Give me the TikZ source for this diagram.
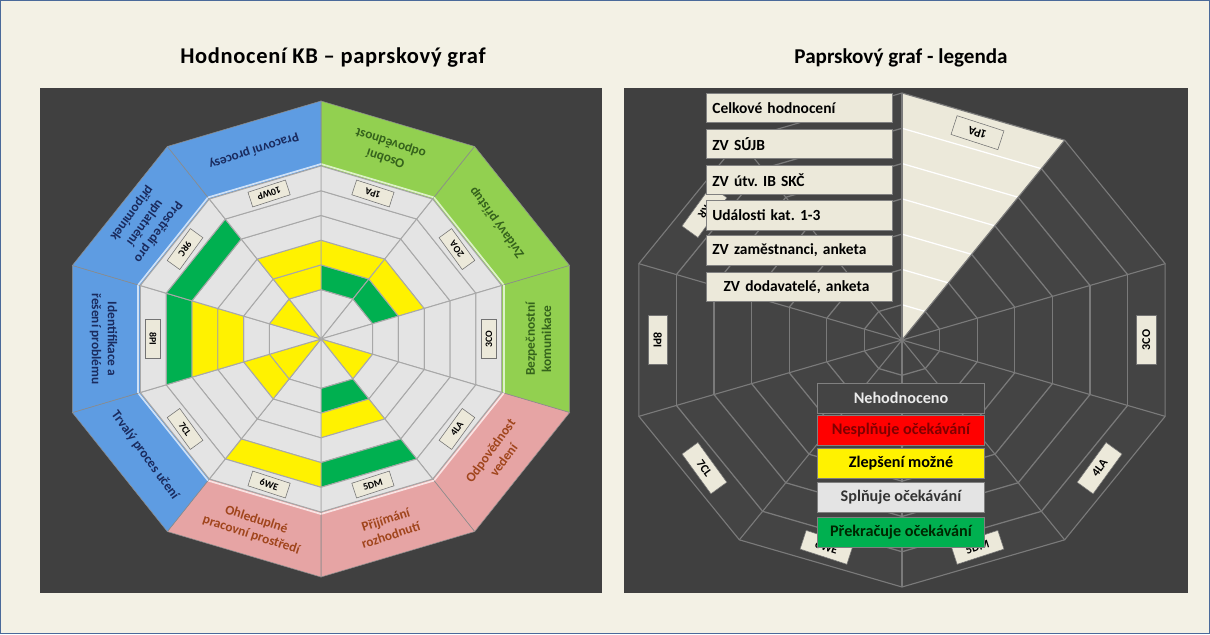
\documentclass[tikz,border=0pt]{standalone}
\usepackage{fontspec}
\setmainfont{Carlito}
\usetikzlibrary{positioning}
\frenchspacing

\definecolor{pozadi}{HTML}{F3F1E5}
\definecolor{ramec}{HTML}{4A6A9A}
\definecolor{panel}{HTML}{404040}
\definecolor{bunka}{HTML}{E4E4E4}
\definecolor{zlu}{HTML}{FFF200}
\definecolor{zel}{HTML}{00B050}
\definecolor{modra}{HTML}{5E9CE2}
\definecolor{zelena}{HTML}{92D050}
\definecolor{ruzova}{HTML}{E6A4A4}
\definecolor{tmod}{HTML}{1A2B5E}
\definecolor{tzel}{HTML}{35631C}
\definecolor{truz}{HTML}{A0451C}
\definecolor{bezova}{HTML}{ECE9DA}
\definecolor{cara}{HTML}{A8A8A8}
\definecolor{tmava}{HTML}{444444}
\definecolor{carap}{HTML}{7A7A7A}

\begin{document}
\begin{tikzpicture}[x=0.025cm, y=-0.025cm,
    nadpis/.style={font=\bfseries\fontsize{15}{18}\selectfont},
    popis/.style={font=\bfseries\fontsize{9.5}{11.5}\selectfont, align=center, inner sep=0pt},
    stitek/.style={draw=black!55, fill=bezova, font=\bfseries\fontsize{7}{8}\selectfont, minimum width=28pt, minimum height=11pt, inner sep=1pt},
    stitekP/.style={stitek, font=\bfseries\fontsize{8.5}{9}\selectfont, minimum width=35pt, minimum height=14pt},
    seznam/.style={draw=black!50, fill=bezova, minimum width=132pt, minimum height=21pt, text width=124pt, align=left, font=\bfseries\fontsize{11}{13}\selectfont},
    hodnota/.style={draw=black!50, minimum width=119pt, minimum height=21.5pt, font=\bfseries\fontsize{11.5}{13}\selectfont}
  ]
  \useasboundingbox (0,0) rectangle (1210,634);
  \fill[pozadi] (0,0) rectangle (1210,634);
  \draw[ramec, line width=1pt] (0.7,0.7) rectangle (1209.3,633.3);

  \fill[panel] (40,88) rectangle (602,593);
  \fill[panel] (624,88) rectangle (1188,593);

  \node[nadpis, font=\bfseries\fontsize{16}{18}\selectfont\addfontfeatures{LetterSpace=3}] (nadpisL) at (333,58) {Hodnocení KB – paprskový graf};
  \node[nadpis] (nadpisP) at (901,58) {Paprskový graf - legenda};

  % hodnoceni KB
  \begin{scope}[shift={(321,339)}, x=0.02745cm, y=0.025cm]
    \foreach \i/\lbl/\barva/\tb/\txt/\bunky in {
        1/1PA/zelena/tzel/{Osobní\\odpovědnost}/{bunka,zel,zlu,bunka,bunka,bunka},
        2/2OA/zelena/tzel/{Zvídavý přístup}/{bunka,zel,zlu,bunka,bunka,bunka},
        3/3CO/zelena/tzel/{Bezpečnostní\\komunikace}/{bunka,bunka,bunka,bunka,bunka,bunka},
        4/4LA/ruzova/truz/{Odpovědnost\\vedení}/{zlu,bunka,bunka,bunka,bunka,bunka},
        5/5DM/ruzova/truz/{Přijímání\\rozhodnutí}/{bunka,zel,zlu,bunka,zel,bunka},
        6/6WE/ruzova/truz/{Ohleduplné\\pracovní prostředí}/{bunka,bunka,bunka,bunka,zlu,bunka},
        7/7CL/modra/tmod/{Trvalý proces učení}/{zlu,zlu,bunka,bunka,bunka,bunka},
        8/8PI/modra/tmod/{Identifikace a\\řešení problému}/{bunka,bunka,zlu,zlu,zel,bunka},
        9/9RC/modra/tmod/{Prostředí pro\\uplatnění\\připomínek}/{zlu,bunka,bunka,bunka,zel,bunka},
        10/10WP/modra/tmod/{Pracovní procesy}/{bunka,zlu,zlu,bunka,bunka,bunka}}{
      \pgfmathsetmacro\a{108-36*\i}
      \pgfmathsetmacro\ap{\a+18}
      \pgfmathsetmacro\am{\a-18}
      \filldraw[fill=\barva, draw=black!45] (\ap:173) -- (\ap:238) -- (\am:238) -- (\am:173) -- cycle;
      \draw[white!70!\barva, line width=1.2pt] (\ap:175) -- (\am:175);
      \foreach \c [count=\k] in \bunky {
        \pgfmathsetmacro\rin{\k==1 ? 0 : 24.714*\k}
        \pgfmathsetmacro\rout{24.714*(\k+1)}
        \filldraw[fill=\c, draw=cara, line width=0.7pt] (\ap:\rin) -- (\ap:\rout) -- (\am:\rout) -- (\am:\rin) -- cycle;
      }
      \node[popis, text=\tb, rotate=\a+90] (popis\i) at (\a:198) {\txt};
      \node[stitek, rotate=\a+90] (stitek\i) at (\a:153) {\lbl};
    }
  \end{scope}

  % legenda - graf
  \begin{scope}[shift={(902,340)}, x=0.028cm, y=0.025cm]
    \foreach \i in {1,...,10}{
      \pgfmathsetmacro\ap{126-36*\i}
      \pgfmathsetmacro\am{90-36*\i}
      \ifnum\i=1 \def\vypln{bezova}\def\linka{white}\else\def\vypln{tmava}\def\linka{carap}\fi
      \fill[\vypln] (0,0) -- (\ap:247) -- (\am:247) -- cycle;
      \foreach \k in {1,...,6}{
        \pgfmathsetmacro\r{35.29*\k}
        \draw[\linka, line width=0.9pt] (\ap:\r) -- (\am:\r);
      }
    }
    \foreach \a in {90,54,...,-234}
      \draw[carap, line width=0.8pt] (0,0) -- (\a:247);
    \draw[carap, line width=0.8pt] (90:247) \foreach \a in {54,18,...,-234}{ -- (\a:247)} -- cycle;

    \node[stitekP, rotate=162] (p1PA) at (72:218) {1PA};
    \node[stitekP, rotate=90] (p3CO) at (0:218) {3CO};
    \node[stitekP, rotate=54] (p4LA) at (-36:218) {4LA};
    \node[stitekP, rotate=18] (p5DM) at (-72:218) {5DM};
    \node[stitekP, rotate=-18] (p6WE) at (-108:218) {6WE};
    \node[stitekP, rotate=-54] (p7CL) at (-144:218) {7CL};
    \node[stitekP, rotate=-90] (p8PI) at (180:218) {8PI};
    \node[stitekP, rotate=-126] (p9RC) at (144:218) {KR};
  \end{scope}

  \node[seznam] (celkove) at (799.5,108) {Celkové hodnocení};
  \node[seznam] (sujb) at (799.5,144) {ZV SÚJB};
  \node[seznam] (utv) at (799.5,180) {ZV útv. IB SKČ};
  \node[seznam] (udalosti) at (799.5,215.5) {Události kat. 1-3};
  \node[seznam] (zamestnanci) at (799.5,250.5) {ZV zaměstnanci, anketa};
  \node[seznam] (dodavatele) at (799.5,287) {\hspace*{8pt}ZV dodavatelé, anketa};

  \node[hodnota, fill=tmava, text=black!8] (nehodnoceno) at (901,398) {Nehodnoceno};
  \node[hodnota, fill=red, text=black!50!red] (nesplnuje) at (901,430.5) {Nesplňuje očekávání};
  \node[hodnota, fill=zlu, text=black] (zlepseni) at (901,463.5) {Zlepšení možné};
  \node[hodnota, fill=bunka, text=black!80] (splnuje) at (901,497) {Splňuje očekávání};
  \node[hodnota, fill=zel, text=black!85!green] (prekracuje) at (901,532.5) {Překračuje očekávání};
\end{tikzpicture}
\end{document}
